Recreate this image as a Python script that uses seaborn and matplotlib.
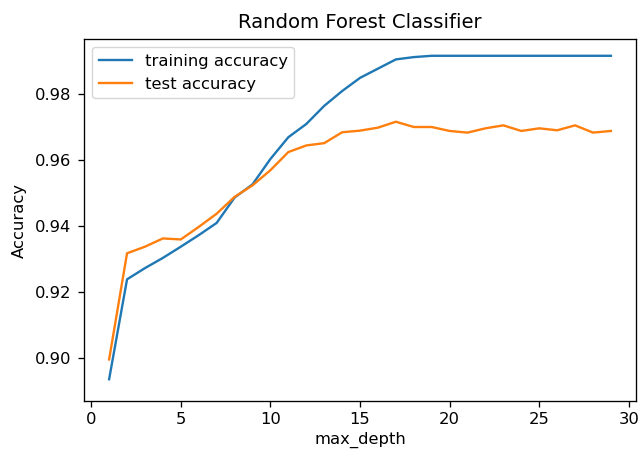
import numpy as np
import pandas as pd
import seaborn as sns
from matplotlib import pyplot as plt

max_depth = list(range(1, 30))
training_accuracy = [0.8935, 0.9238, 0.9272, 0.9303, 0.9337, 0.9372, 0.9409, 0.9486, 0.9526,
                     0.9603, 0.9669, 0.9709, 0.9764, 0.9809, 0.9849, 0.9877, 0.9905, 0.9912,
                     0.9916, 0.9916, 0.9916, 0.9916, 0.9916, 0.9916, 0.9916, 0.9916, 0.9916,
                     0.9916, 0.9916]
test_accuracy = [0.8995, 0.9317, 0.9337, 0.9362, 0.9359, 0.9397, 0.9437, 0.9488, 0.9523,
                 0.9569, 0.9624, 0.9644, 0.9651, 0.9684, 0.9689, 0.9698, 0.9716, 0.9700,
                 0.9700, 0.9688, 0.9683, 0.9696, 0.9705, 0.9688, 0.9696, 0.9690, 0.9705,
                 0.9683, 0.9688]

df = pd.DataFrame({"max_depth": max_depth * 2,
                   "accuracy": training_accuracy + test_accuracy,
                   "kind": ["training accuracy"] * len(max_depth) + ["test accuracy"] * len(max_depth),
                   })

plt.rcParams["font.size"] = 11.8
plt.rcParams["axes.linewidth"] = 0.95
plt.rcParams["xtick.major.width"] = 0.95
plt.rcParams["ytick.major.width"] = 0.95
plt.rcParams["xtick.major.size"] = 4.2
plt.rcParams["ytick.major.size"] = 4.2
plt.rcParams["ytick.major.pad"] = 5

fig = plt.figure(figsize=(6.38, 4.5), dpi=100)
ax = fig.add_axes([0.1317, 0.1089, 0.8652, 0.8045])
sns.lineplot(data=df,
             x="max_depth",
             y="accuracy",
             hue="kind",
             palette=["#1f77b4", "#ff7f0e"],
             linewidth=1.7,
             ax=ax,
             )
ax.legend(loc="upper left", title=None)
ax.set_title("Random Forest Classifier", pad=8)
ax.set_xlabel("max_depth")
ax.set_ylabel("Accuracy", labelpad=6)
ax.set_xticks([0, 5, 10, 15, 20, 25, 30])
ax.set_yticks([0.90, 0.92, 0.94, 0.96, 0.98])
ax.set_xlim(-0.4, 30.4)
ax.set_ylim(0.8869, 0.9967)
fig.savefig("out.png", dpi=100)
